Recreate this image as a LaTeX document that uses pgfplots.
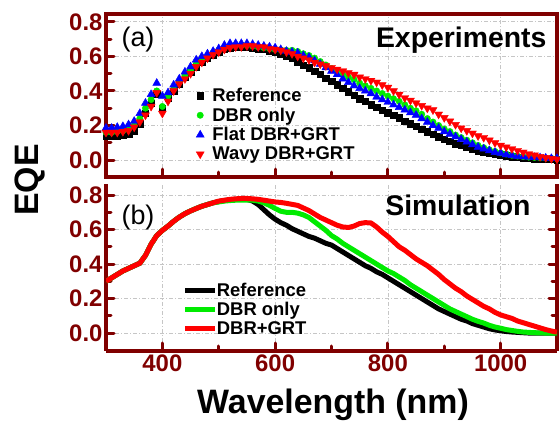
\documentclass[border=0pt]{standalone}
\usepackage{pgfplots}
\usepackage{pgfplotstable}
\pgfplotsset{compat=1.18}
\usepackage{fontspec}
\setmainfont{Liberation Sans}

\definecolor{maroon}{RGB}{128,0,0}
\definecolor{lgreen}{RGB}{0,235,0}

% measured EQE (wl, reference, DBR only, flat DBR+GRT, wavy DBR+GRT)
\pgfplotstableread{
wl ref dbr flat wavy
300 0.140 0.160 0.185 0.160
310 0.140 0.160 0.185 0.160
320 0.140 0.165 0.190 0.160
330 0.145 0.170 0.195 0.165
340 0.150 0.180 0.205 0.170
350 0.170 0.200 0.225 0.190
360 0.210 0.240 0.270 0.220
370 0.270 0.300 0.330 0.260
380 0.330 0.350 0.380 0.310
390 0.380 0.400 0.445 0.390
400 0.300 0.310 0.370 0.270
410 0.360 0.370 0.390 0.340
420 0.400 0.410 0.435 0.400
430 0.440 0.450 0.470 0.440
440 0.480 0.490 0.510 0.470
450 0.510 0.520 0.540 0.500
460 0.540 0.555 0.580 0.540
470 0.570 0.585 0.600 0.565
480 0.590 0.600 0.615 0.590
490 0.610 0.620 0.630 0.610
500 0.625 0.635 0.645 0.625
510 0.640 0.650 0.665 0.640
520 0.650 0.660 0.675 0.650
530 0.655 0.665 0.675 0.655
540 0.655 0.665 0.675 0.655
550 0.655 0.665 0.675 0.660
560 0.650 0.660 0.670 0.660
570 0.645 0.655 0.665 0.655
580 0.640 0.650 0.660 0.655
590 0.630 0.645 0.655 0.645
600 0.625 0.640 0.650 0.640
610 0.615 0.638 0.640 0.635
620 0.600 0.635 0.630 0.625
630 0.590 0.635 0.625 0.615
640 0.570 0.628 0.620 0.600
650 0.550 0.615 0.605 0.590
660 0.535 0.605 0.595 0.580
670 0.515 0.590 0.575 0.565
680 0.495 0.570 0.555 0.555
690 0.475 0.550 0.535 0.545
700 0.455 0.530 0.515 0.535
710 0.435 0.515 0.495 0.525
720 0.415 0.495 0.470 0.515
730 0.395 0.480 0.450 0.505
740 0.375 0.465 0.430 0.495
750 0.355 0.445 0.415 0.480
760 0.340 0.430 0.400 0.470
770 0.320 0.415 0.385 0.460
780 0.305 0.400 0.365 0.450
790 0.290 0.385 0.350 0.435
800 0.275 0.370 0.335 0.420
810 0.260 0.355 0.320 0.400
820 0.245 0.340 0.305 0.380
830 0.225 0.320 0.290 0.360
840 0.210 0.300 0.275 0.345
850 0.195 0.285 0.260 0.330
860 0.180 0.265 0.240 0.315
870 0.165 0.240 0.220 0.300
880 0.150 0.220 0.200 0.290
890 0.135 0.200 0.185 0.265
900 0.120 0.180 0.165 0.245
910 0.110 0.165 0.150 0.225
920 0.095 0.145 0.135 0.205
930 0.085 0.130 0.120 0.185
940 0.075 0.115 0.105 0.170
950 0.065 0.100 0.090 0.155
960 0.055 0.085 0.075 0.140
970 0.045 0.072 0.065 0.130
980 0.040 0.060 0.055 0.115
990 0.035 0.050 0.045 0.100
1000 0.030 0.042 0.040 0.085
1010 0.025 0.035 0.032 0.075
1020 0.020 0.028 0.027 0.065
1030 0.015 0.023 0.022 0.055
1040 0.012 0.020 0.020 0.045
1050 0.010 0.017 0.018 0.035
1060 0.008 0.015 0.016 0.028
1070 0.006 0.013 0.014 0.020
1080 0.005 0.011 0.012 0.014
1090 0.004 0.010 0.010 0.008
1100 0.003 0.009 0.010 0.005
}\expdata

% simulated EQE (wl, reference, DBR only, DBR+GRT)
\pgfplotstableread{
wl ref dbr grt
300 0.300 0.300 0.300
310 0.320 0.320 0.320
320 0.340 0.340 0.340
330 0.360 0.360 0.360
340 0.375 0.375 0.375
350 0.390 0.390 0.390
360 0.405 0.405 0.405
370 0.450 0.450 0.450
380 0.515 0.515 0.515
390 0.565 0.565 0.565
400 0.595 0.595 0.595
410 0.620 0.620 0.620
420 0.648 0.648 0.648
430 0.672 0.672 0.672
440 0.692 0.692 0.692
450 0.708 0.708 0.708
460 0.722 0.722 0.722
470 0.735 0.735 0.735
480 0.745 0.745 0.745
490 0.755 0.755 0.755
500 0.762 0.760 0.765
510 0.768 0.765 0.770
520 0.772 0.768 0.775
530 0.775 0.770 0.778
540 0.776 0.771 0.780
550 0.775 0.771 0.780
560 0.765 0.770 0.778
570 0.745 0.765 0.775
580 0.715 0.755 0.770
590 0.685 0.740 0.765
600 0.660 0.722 0.760
610 0.640 0.706 0.757
620 0.625 0.700 0.752
630 0.605 0.700 0.746
640 0.590 0.695 0.740
650 0.575 0.685 0.725
660 0.560 0.670 0.710
670 0.550 0.645 0.690
680 0.535 0.620 0.670
690 0.520 0.595 0.655
700 0.510 0.565 0.640
710 0.490 0.545 0.625
720 0.470 0.520 0.615
730 0.450 0.500 0.612
740 0.430 0.480 0.620
750 0.410 0.460 0.635
760 0.390 0.440 0.640
770 0.375 0.420 0.638
780 0.355 0.400 0.615
790 0.340 0.380 0.585
800 0.320 0.360 0.560
810 0.300 0.345 0.530
820 0.280 0.325 0.500
830 0.260 0.305 0.480
840 0.240 0.280 0.455
850 0.220 0.260 0.430
860 0.200 0.240 0.410
870 0.180 0.220 0.390
880 0.160 0.200 0.365
890 0.140 0.180 0.340
900 0.125 0.160 0.310
910 0.110 0.140 0.285
920 0.095 0.125 0.260
930 0.080 0.110 0.240
940 0.070 0.095 0.215
950 0.055 0.080 0.195
960 0.045 0.068 0.175
970 0.035 0.058 0.155
980 0.025 0.045 0.140
990 0.018 0.035 0.120
1000 0.013 0.028 0.105
1010 0.009 0.020 0.095
1020 0.006 0.015 0.085
1030 0.004 0.010 0.070
1040 0.002 0.006 0.060
1050 0.000 0.004 0.050
1060 0.000 0.002 0.040
1070 0.000 0.001 0.030
1080 0.000 0.000 0.020
1090 0.000 0.000 0.012
1100 0.000 0.000 0.005
}\simdata

\pgfplotsset{
  eqe/.style={
    scale only axis, width=451bp,
    xmin=300, xmax=1100,
    xtick={400,600,800,1000}, minor xtick={500,700,900},
    ytick={0,0.2,0.4,0.6,0.8}, minor ytick={0.1,0.3,0.5,0.7},
    grid=major,
    major grid style={gray!45, line width=0.7bp, dash pattern=on 4bp off 2bp on 1bp off 2bp},
    axis line style={maroon, line width=4bp, -},
    every tick/.style={maroon, line width=3bp, line cap=round},
    major tick length=8bp, minor tick length=5bp,
    tick align=inside,
    tick label style={font=\fontsize{24}{24}\selectfont\bfseries, text=maroon},
    /pgf/number format/assume math mode=true,
    x tick label style={/pgf/number format/.cd, 1000 sep={}, assume math mode=true},
    y tick label style={/pgf/number format/.cd, fixed, fixed zerofill, precision=1, assume math mode=true},
    legend cell align=left,
  },
}

\begin{document}
\begin{tikzpicture}
\useasboundingbox (0,0) rectangle (560bp,426bp);

% (a) experiments
\begin{axis}[eqe,
  at={(106bp,412bp)}, anchor=north west, height=163bp,
  ymin=-0.098, ymax=0.845,
  xticklabels={}, tick pos=left,
  legend style={at={(0.193,0.565)}, anchor=north west, draw=none, fill=none,
    font=\fontsize{18.5}{18.5}\selectfont\bfseries, row sep=2.3bp,
    nodes={inner sep=1.2bp},
    /tikz/every odd column/.append style={column sep=7bp}},
]
\addplot[only marks, mark=square*, mark size=3.2bp, black] table[x=wl, y=ref] {\expdata};
\addplot[only marks, mark=*, mark size=3.2bp, lgreen] table[x=wl, y=dbr] {\expdata};
\addplot[only marks, mark=triangle*, mark size=4.6bp, blue] table[x=wl, y=flat] {\expdata};
\addplot[only marks, mark=triangle*, mark size=4.6bp, red, mark options={rotate=180}] table[x=wl, y=wavy] {\expdata};
\legend{Reference, DBR only, Flat DBR+GRT, Wavy DBR+GRT}
\end{axis}

% (b) simulation
\begin{axis}[eqe,
  at={(106bp,75bp)}, anchor=south west, height=167bp,
  ymin=-0.104, ymax=0.864,
  axis x line*=bottom, xtick pos=left, ytick pos=both,
  legend image code/.code={\draw[#1] (0bp,0bp) -- (30bp,0bp);},
  legend style={at={(0.163,0.427)}, anchor=north west, draw=none, fill=none,
    font=\fontsize{18.5}{18.5}\selectfont\bfseries, row sep=2bp,
    nodes={inner sep=1.2bp},
    /tikz/every odd column/.append style={column sep=-2bp}},
]
\addplot[black, line width=5bp] table[x=wl, y=ref] {\simdata};
\addplot[lgreen, line width=5bp] table[x=wl, y=dbr] {\simdata};
\addplot[red, line width=5bp] table[x=wl, y=grt] {\simdata};
\legend{Reference, DBR only, DBR+GRT}
\end{axis}

\node at (138bp,386bp) {\fontsize{27}{27}\selectfont (a)};
\node[anchor=east] at (550bp,386bp) {\fontsize{28.5}{28.5}\selectfont\bfseries Experiments};
\node at (138bp,208bp) {\fontsize{27}{27}\selectfont (b)};
\node[anchor=east] at (534bp,221bp) {\fontsize{28.5}{28.5}\selectfont\bfseries Simulation};
\node[rotate=90] at (30bp,246bp) {\fontsize{34}{34}\selectfont\bfseries EQE};
\node at (333bp,21bp) {\fontsize{34}{34}\selectfont\bfseries Wavelength (nm)};
\end{tikzpicture}
\end{document}
